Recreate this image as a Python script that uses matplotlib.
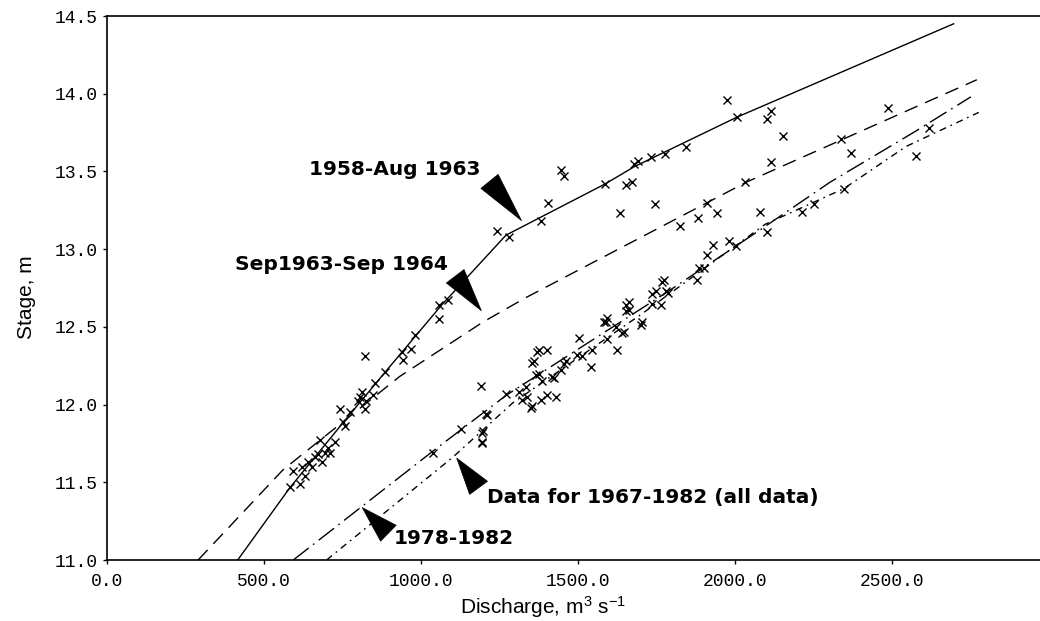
import numpy as np
import matplotlib
matplotlib.use("Agg")
import matplotlib.pyplot as plt

plt.rcParams["lines.scale_dashes"] = False
plt.rcParams["mathtext.fontset"] = "custom"
plt.rcParams["mathtext.rm"] = "Liberation Sans"
plt.rcParams["mathtext.it"] = "Liberation Sans"

# ------------------------------------------------------------------
# rating curves (discharge m3/s, stage m)
q_1958 = [416, 582, 750, 890, 1065, 1270, 1586, 1678, 2006, 2695]
s_1958 = [11.0, 11.465, 11.88, 12.22, 12.64, 13.09, 13.42, 13.53, 13.85, 14.45]

q_1963 = [290, 560, 931, 1196, 1335, 2034, 2769]
s_1963 = [11.0, 11.58, 12.18, 12.53, 12.69, 13.43, 14.09]

q_1978 = [593, 1037, 1271, 1780, 2076, 2301, 2575, 2750]
s_1978 = [11.0, 11.70, 12.06, 12.72, 13.12, 13.43, 13.76, 13.98]

q_all = [699, 1100, 1291, 1700, 2095, 2346, 2543, 2775]
s_all = [11.0, 11.66, 12.01, 12.58, 13.16, 13.39, 13.66, 13.88]

# observed gaugings
obs_q = [582, 591, 613, 620, 629, 639, 652, 661, 671, 677, 683, 693, 703, 709, 725,
         741, 750, 756, 772, 798, 804, 811, 820, 826, 846, 852, 884, 820, 938, 941,
         969, 979, 1058, 1084, 1058, 1243, 1281, 1383, 1405, 1446, 1456, 1586, 1653,
         1672, 1678, 1691, 1732, 1777, 1844, 1974, 2006, 2101, 2114, 2152,
         1634, 1745, 1825, 1882, 1910, 1942, 2031, 2114, 2336, 2369, 2486, 2575, 2616,
         2079, 2101, 2212, 2250, 2346, 1980, 2003, 1929, 1910, 1901, 1879, 1885, 1774,
         1786, 1748, 1736, 1764, 1662, 1653, 1593, 1736, 1704, 1662, 1640, 1621, 1624,
         1593, 1583, 1545, 1542, 1504, 1497, 1462, 1446, 1424, 1402, 1376, 1360, 1376,
         1402, 1430, 1354, 1322, 1383, 1335, 1192, 1198, 1195, 1208, 1128, 1271, 1310,
         1351, 1338, 1354, 1370, 1367, 1386, 1418, 1456, 1513, 1589, 1647, 1653, 1701,
         1767, 1780, 1037, 1195, 1211, 1195]
obs_s = [11.47, 11.57, 11.49, 11.60, 11.54, 11.63, 11.60, 11.66, 11.68, 11.77, 11.63, 11.69, 11.72, 11.69, 11.76,
         11.97, 11.89, 11.86, 11.95, 12.02, 12.05, 12.08, 11.97, 12.02, 12.06, 12.14, 12.21, 12.31, 12.34, 12.29,
         12.36, 12.45, 12.64, 12.67, 12.55, 13.12, 13.08, 13.18, 13.30, 13.51, 13.47, 13.42, 13.41,
         13.43, 13.55, 13.57, 13.59, 13.61, 13.66, 13.96, 13.85, 13.84, 13.89, 13.73,
         13.23, 13.29, 13.15, 13.20, 13.30, 13.23, 13.43, 13.56, 13.71, 13.62, 13.91, 13.60, 13.78,
         13.24, 13.11, 13.24, 13.29, 13.39, 13.05, 13.02, 13.03, 12.96, 12.88, 12.80, 12.88, 12.80,
         12.72, 12.73, 12.71, 12.64, 12.66, 12.60, 12.56, 12.65, 12.53, 12.61, 12.46, 12.50, 12.35,
         12.42, 12.53, 12.35, 12.24, 12.43, 12.32, 12.28, 12.22, 12.17, 12.35, 12.35, 12.28, 12.20,
         12.06, 12.05, 11.99, 12.03, 12.03, 12.11, 12.12, 11.83, 11.76, 11.94, 11.84, 12.07, 12.08,
         11.98, 12.05, 12.27, 12.34, 12.19, 12.15, 12.18, 12.26, 12.31, 12.53, 12.47, 12.64, 12.51,
         12.79, 12.73, 11.69, 11.82, 11.93, 11.75]

x_ticks = [0, 500, 1000, 1500, 2000, 2500]
y_ticks = [11.0, 11.5, 12.0, 12.5, 13.0, 13.5, 14.0, 14.5]

# ------------------------------------------------------------------
fig = plt.figure(figsize=(10.4, 6.21), dpi=100)
ax = fig.add_axes([0.1029, 0.0982, 0.8971, 0.876])

lw = 1.0
ax.plot(q_1958, s_1958, color="k", lw=lw)
ax.plot(q_1963, s_1963, color="k", lw=lw, linestyle=(0, (10, 6)))
ax.plot(q_1978, s_1978, color="k", lw=lw, linestyle=(0, (14, 4, 1.2, 4)))
ax.plot(q_all, s_all, color="k", lw=lw, linestyle=(0, (5, 3.5, 1.2, 3.5)))
ax.plot(obs_q, obs_s, "x", color="k", ms=5.5, mew=1.0)

# labels with wedge pointers
lab_kw = dict(fontsize=14.5, fontweight="bold", family="DejaVu Sans", va="center")
arr_kw = dict(arrowstyle="wedge,tail_width=0.8,shrink_factor=0.5", fc="k", ec="k",
              mutation_scale=20, lw=0.5)

ax.text(1188, 13.51, "1958-Aug 1963", ha="right", **lab_kw)
ax.annotate("", xy=(1325, 13.17), xytext=(1212, 13.45), arrowprops=arr_kw)

ax.text(1086, 12.90, "Sep1963-Sep 1964", ha="right", **lab_kw)
ax.annotate("", xy=(1197, 12.59), xytext=(1103, 12.84), arrowprops=arr_kw)

ax.text(1210, 11.40, "Data for 1967-1982 (all data)", ha="left", **lab_kw)
ax.annotate("", xy=(1108, 11.67), xytext=(1188, 11.45), arrowprops=arr_kw)

ax.text(911, 11.14, "1978-1982", ha="left", **lab_kw)
ax.annotate("", xy=(806, 11.35), xytext=(902, 11.16), arrowprops=arr_kw)

# axes
ax.set_xlim(0, 2970)
ax.set_ylim(11.0, 14.5)
ax.set_xticks(x_ticks)
ax.set_xticklabels([f"{v:.1f}" for v in x_ticks], family="Liberation Mono", fontsize=13)
ax.set_yticks(y_ticks)
ax.set_yticklabels([f"{v:.1f}" for v in y_ticks], family="Liberation Mono", fontsize=13)
ax.tick_params(direction="out", length=3, width=1, pad=4)
ax.tick_params(axis="x", pad=6)
ax.spines["right"].set_visible(False)
for s in ("left", "bottom", "top"):
    ax.spines[s].set_linewidth(1.2)

ax.set_xlabel(r"Discharge, m$^{3}$ s$^{-1}$", family="Liberation Sans", fontsize=15)
ax.set_ylabel("Stage, m", family="Liberation Sans", fontsize=15)
ax.xaxis.set_label_coords(0.467, -0.063)
ax.yaxis.set_label_coords(-0.076, 0.483)

fig.savefig("out.png", dpi=100)
